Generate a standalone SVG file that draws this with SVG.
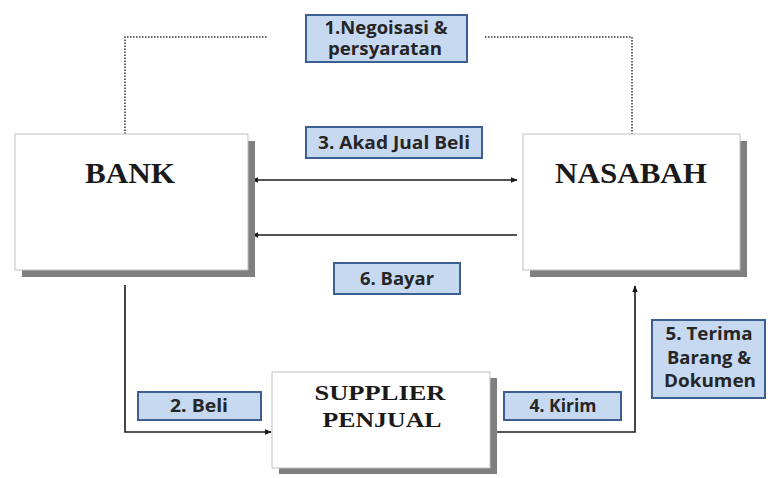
<svg xmlns="http://www.w3.org/2000/svg" width="768" height="478" viewBox="0 0 768 478">
<style>
.shadow{fill:#7f7f7f}
.box{fill:#fff;stroke:#c0c0c0;stroke-width:1}
.node{font-family:"Liberation Serif",serif;font-weight:bold;fill:#1a1a1a;text-anchor:middle}
.lbl{fill:#c6d9f1;stroke:#3d5f8f;stroke-width:2}
.lt{font-family:"Open Sans","Noto Sans",sans-serif;font-size:17px;font-weight:700;fill:#262626;text-anchor:middle}
.ln{fill:none;stroke:#1a1a1a;stroke-width:1.6}
.dot{fill:none;stroke:#333;stroke-width:1.5;stroke-dasharray:1.5 1.5}
</style>
<defs>
<marker id="ah" viewBox="0 0 10 10" refX="9" refY="5" markerWidth="7" markerHeight="7" markerUnits="userSpaceOnUse" orient="auto-start-reverse">
<path d="M0,1 L10,5 L0,9 z" fill="#1a1a1a"/>
</marker>
</defs>
<g id="connectors">
<polyline class="dot" points="125,134 125,37 268,37"/>
<polyline class="dot" points="485,37 632,37 632,134"/>
<line class="ln" x1="252" y1="180" x2="517" y2="180" marker-start="url(#ah)" marker-end="url(#ah)"/>
<line class="ln" x1="517" y1="235" x2="252" y2="235" marker-end="url(#ah)"/>
<polyline class="ln" points="125,285 125,432 271,432" marker-end="url(#ah)"/>
<polyline class="ln" points="491,432 635,432 635,286" marker-end="url(#ah)"/>
</g>
<g id="bank">
<rect class="shadow" x="22" y="141" width="233" height="136"/>
<rect class="box" x="15" y="134" width="233" height="136"/>
<text class="node" x="130" y="183" font-size="30" textLength="90" lengthAdjust="spacingAndGlyphs">BANK</text>
</g>
<g id="nasabah">
<rect class="shadow" x="530" y="141" width="217" height="136"/>
<rect class="box" x="523" y="134" width="217" height="136"/>
<text class="node" x="631" y="183" font-size="30" textLength="152" lengthAdjust="spacingAndGlyphs">NASABAH</text>
</g>
<g id="supplier">
<rect class="shadow" x="279" y="378" width="218" height="96"/>
<rect class="box" x="272" y="372" width="218" height="96"/>
<text class="node" x="380" y="400" font-size="22" textLength="131" lengthAdjust="spacingAndGlyphs">SUPPLIER</text>
<text class="node" x="382" y="427" font-size="22" textLength="119" lengthAdjust="spacingAndGlyphs">PENJUAL</text>
</g>
<g id="label1">
<rect class="lbl" x="306" y="15" width="161" height="47"/>
<text class="lt" x="386" y="34" font-size="15" textLength="123" lengthAdjust="spacingAndGlyphs">1.Negoisasi &amp;</text>
<text class="lt" x="385" y="55" font-size="15" textLength="114" lengthAdjust="spacingAndGlyphs">persyaratan</text>
</g>
<g id="label3">
<rect class="lbl" x="306" y="127" width="176" height="31"/>
<text class="lt" x="394" y="149" textLength="152" lengthAdjust="spacingAndGlyphs">3. Akad Jual Beli</text>
</g>
<g id="label6">
<rect class="lbl" x="334" y="263" width="126" height="31"/>
<text class="lt" x="397" y="285" textLength="74" lengthAdjust="spacingAndGlyphs">6. Bayar</text>
</g>
<g id="label2">
<rect class="lbl" x="138" y="392" width="123" height="28"/>
<text class="lt" x="199" y="412" textLength="58" lengthAdjust="spacingAndGlyphs">2. Beli</text>
</g>
<g id="label4">
<rect class="lbl" x="504" y="392" width="117" height="28"/>
<text class="lt" x="563" y="412" textLength="67" lengthAdjust="spacingAndGlyphs">4. Kirim</text>
</g>
<g id="label5">
<rect class="lbl" x="652" y="320" width="113" height="78"/>
<text class="lt" x="709" y="340" textLength="87" lengthAdjust="spacingAndGlyphs">5. Terima</text>
<text class="lt" x="709" y="364" textLength="84" lengthAdjust="spacingAndGlyphs">Barang &amp;</text>
<text class="lt" x="710" y="387" textLength="92" lengthAdjust="spacingAndGlyphs">Dokumen</text>
</g>
</svg>
